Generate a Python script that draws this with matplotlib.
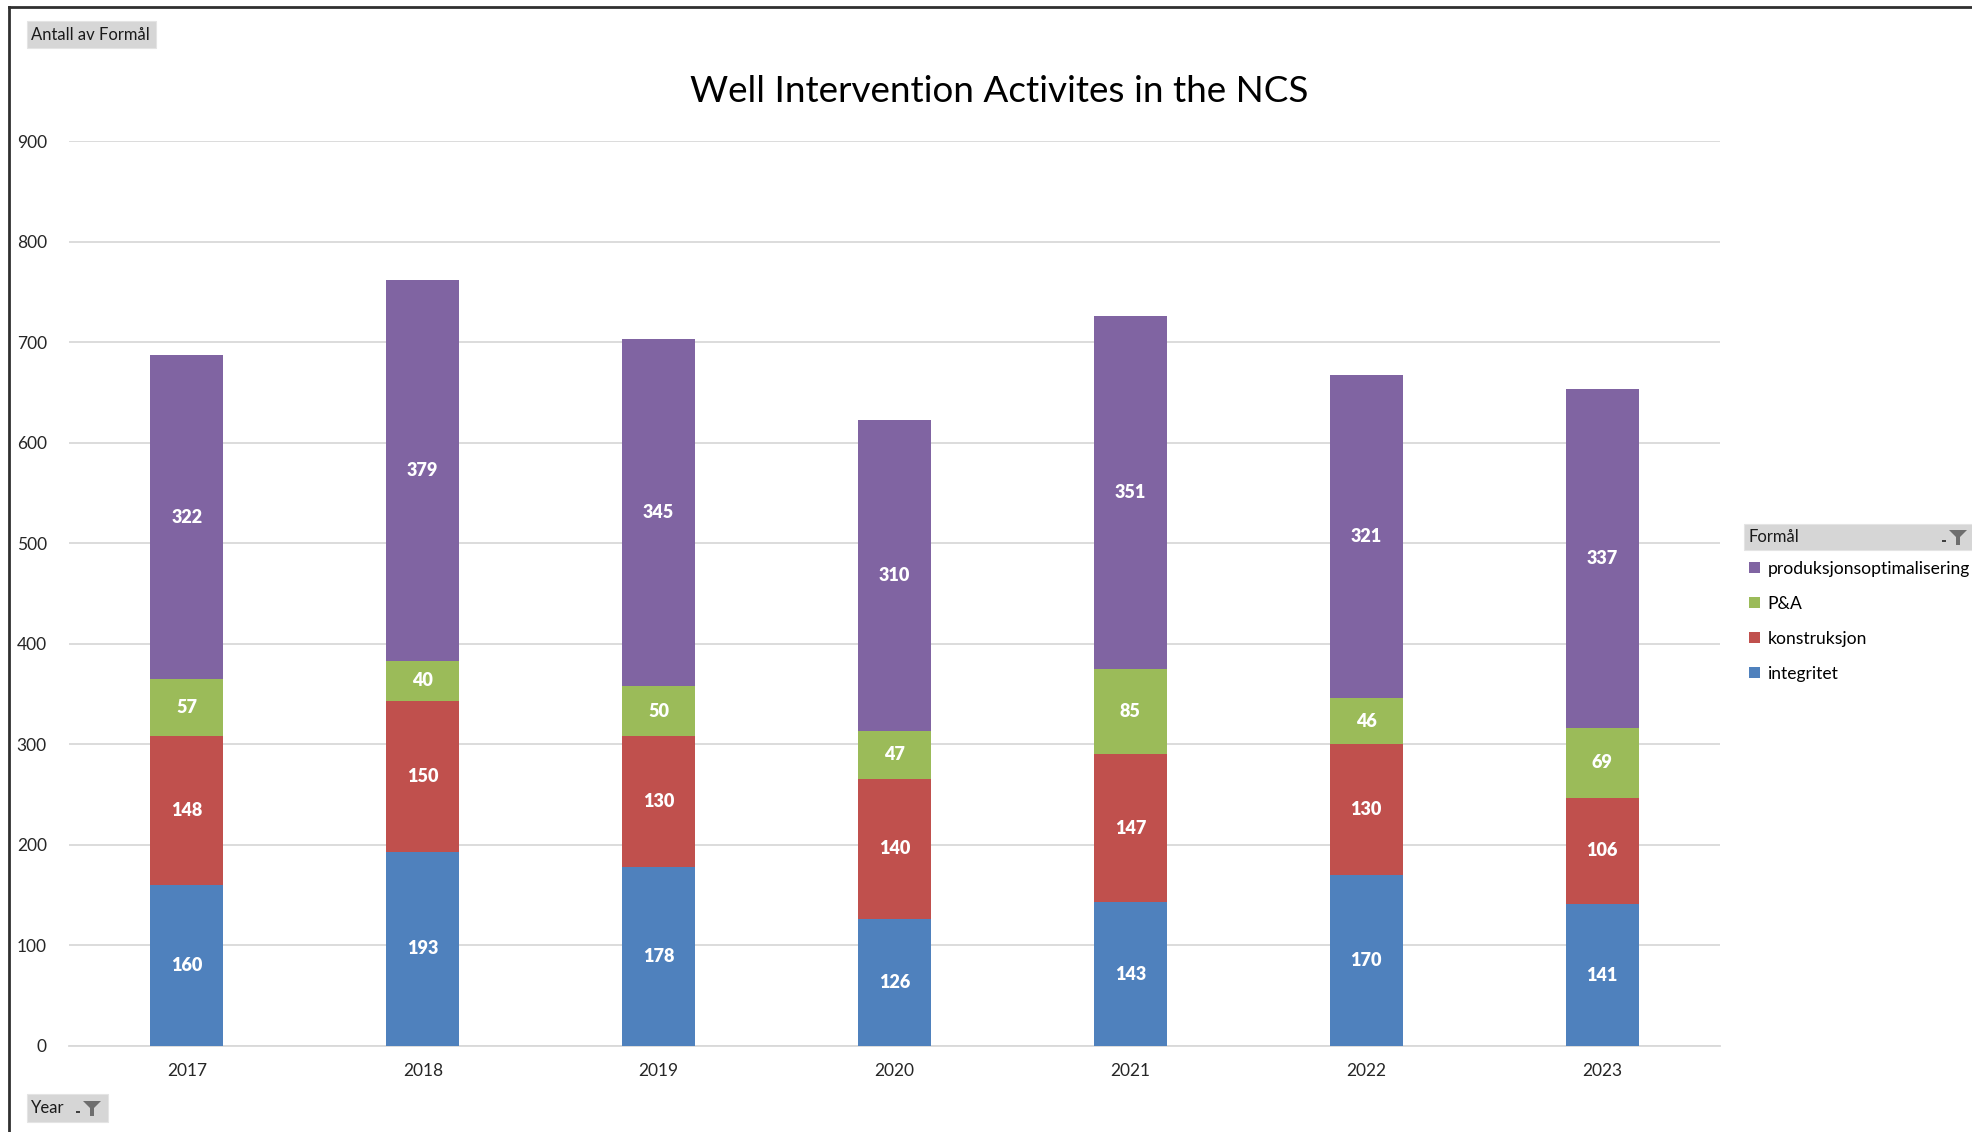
import numpy as np
import matplotlib
matplotlib.use("Agg")
from matplotlib import pyplot as plt
from matplotlib.patches import Rectangle, Polygon
from matplotlib.lines import Line2D

plt.rcParams['font.family'] = ['Lato', 'DejaVu Sans']

# data
years = ['2017', '2018', '2019', '2020', '2021', '2022', '2023']
integritet = [160, 193, 178, 126, 143, 170, 141]
konstruksjon = [148, 150, 130, 140, 147, 130, 106]
pa = [57, 40, 50, 47, 85, 46, 69]
produksjon = [322, 379, 345, 310, 351, 321, 337]

series_names = ['integritet', 'konstruksjon', 'P&A', 'produksjonsoptimalisering']
colors = ['#4F81BD', '#C0504D', '#9BBB59', '#8064A2']

W, H = 1972, 1132
fig = plt.figure(figsize=(W / 100, H / 100), dpi=100)

def fx(px):
    return px / W

def fy(py):
    return 1 - py / H

ax = fig.add_axes([fx(69), fy(1046), fx(1720 - 69), (1046 - 141) / H])

x = np.arange(len(years))
bottom = np.zeros(len(years))
containers = []
for vals, name, col in zip([integritet, konstruksjon, pa, produksjon], series_names, colors):
    c = ax.bar(x, vals, width=0.31, bottom=bottom, color=col, label=name, zorder=3)
    containers.append(c)
    bottom += np.array(vals)

for c in containers:
    ax.bar_label(c, label_type='center', color='white', fontweight='heavy', fontsize=13)

ax.set_xlim(-0.5, len(years) - 0.5)
ax.set_ylim(0, 900)
ax.set_yticks(range(0, 901, 100))
ax.set_xticks(x)
ax.set_xticklabels(years)
ax.tick_params(axis='both', length=0, labelsize=12.5, colors='#262626')
ax.tick_params(axis='y', pad=16)
ax.tick_params(axis='x', pad=12)
ax.yaxis.grid(True, color='#D9D9D9', linewidth=1.3, zorder=0)
for s in ax.spines.values():
    s.set_visible(False)
ax.spines['bottom'].set_visible(True)
ax.spines['bottom'].set_color('#D9D9D9')
ax.spines['bottom'].set_linewidth(1.3)

fig.text(fx(999), fy(92), 'Well Intervention Activites in the NCS',
         ha='center', va='center', fontsize=26.6, color='black')

def funnel(cx, cy):
    fig.patches.append(Polygon([(fx(cx - 9), fy(cy - 7)), (fx(cx + 9), fy(cy - 7)),
                                (fx(cx + 2), fy(cy)), (fx(cx + 2), fy(cy + 8)),
                                (fx(cx - 2), fy(cy + 8)), (fx(cx - 2), fy(cy))],
                               closed=True, transform=fig.transFigure,
                               facecolor='#6E6E6E', edgecolor='none'))
    fig.patches.append(Rectangle((fx(cx - 16), fy(cy + 5)), fx(4), 2 / H,
                                 transform=fig.transFigure, facecolor='#404040',
                                 edgecolor='none'))

# pivot field buttons
def button(x0, y0, x1, y1, label):
    fig.patches.append(Rectangle((fx(x0), fy(y1)), fx(x1 - x0), (y1 - y0) / H,
                                 transform=fig.transFigure, facecolor='#D6D6D6',
                                 edgecolor='#E4E4E4', lw=0.8))
    fig.text(fx(x0 + 4), fy((y0 + y1) / 2), label, ha='left', va='center',
             fontsize=12, color='#1A1A1A')

button(27, 21, 156, 48, 'Antall av Formål')
button(27, 1094, 108, 1122, 'Year')
funnel(92, 1108)
button(1744, 524, 1990, 550, 'Formål')
funnel(1958, 537)

handles, labels = ax.get_legend_handles_labels()
fig.legend(handles[::-1], labels[::-1], loc='upper left',
           bbox_to_anchor=(fx(1749), fy(561)), frameon=False, fontsize=12.6,
           handlelength=0.6, handleheight=0.6, handletextpad=0.45,
           labelspacing=1.08, borderaxespad=0, borderpad=0)

# outer frame (top and left edges visible)
fig.add_artist(Line2D([fx(9), 1], [fy(7), fy(7)], transform=fig.transFigure,
                      color='#303030', lw=2))
fig.add_artist(Line2D([fx(9), fx(9)], [fy(7), 0], transform=fig.transFigure,
                      color='#303030', lw=2))

fig.savefig('out.png', dpi=100, facecolor='white')
